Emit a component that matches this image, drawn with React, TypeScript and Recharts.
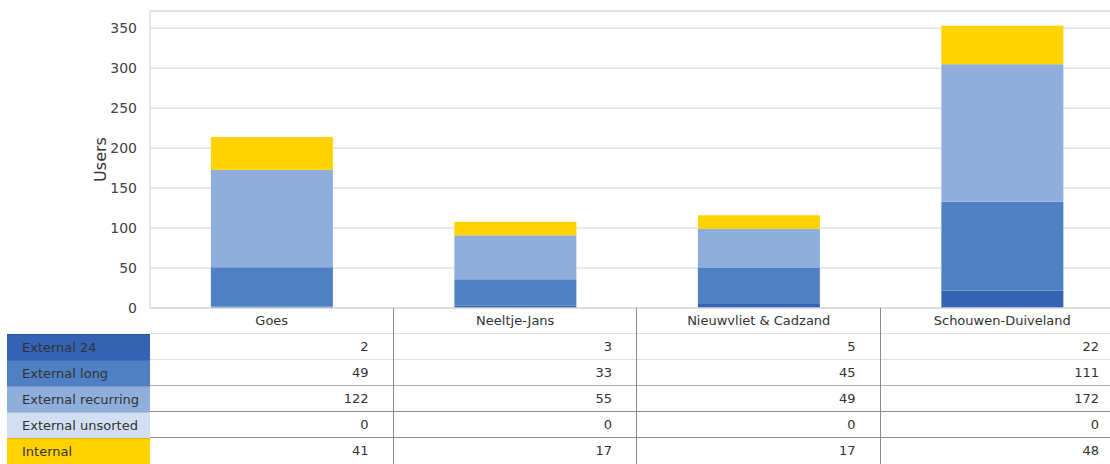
import React from "react";
import {
  Bar,
  BarChart,
  CartesianGrid,
  Label,
  ReferenceLine,
  XAxis,
  YAxis,
} from "recharts";

const locations = ["Goes", "Neeltje-Jans", "Nieuwvliet & Cadzand", "Schouwen-Duiveland"];

const external24 = [2, 3, 5, 22];
const externalLong = [49, 33, 45, 111];
const externalRecurring = [122, 55, 49, 172];
const externalUnsorted = [0, 0, 0, 0];
const internal = [41, 17, 17, 48];

const yTicks = [0, 50, 100, 150, 200, 250, 300, 350];
const yMax = 371.6;

const series = [
  { key: "External 24", values: external24, color: "#3463b3" },
  { key: "External long", values: externalLong, color: "#4f80c4" },
  { key: "External recurring", values: externalRecurring, color: "#8faedc" },
  { key: "External unsorted", values: externalUnsorted, color: "#d2def1" },
  { key: "Internal", values: internal, color: "#ffd200" },
];

const data = locations.map((name, i) => {
  const row: Record<string, string | number> = { name };
  series.forEach((s) => (row[s.key] = s.values[i]));
  return row;
});

// plot geometry (matches the chart margins below)
const plotLeft = 150;
const plotRight = 1124;
const plotBottom = 308;
const headerH = 26;
const rowH = 26;
const colW = (plotRight - plotLeft) / locations.length;

const font = "'DejaVu Sans', sans-serif";

export default function App() {
  const tableTop = plotBottom + headerH;
  return (
    <div
      style={{
        position: "absolute",
        left: 0,
        top: 0,
        width: 1110,
        height: 464,
        overflow: "hidden",
        background: "#fff",
        fontFamily: font,
      }}
    >
      <BarChart
        width={1130}
        height={plotBottom + headerH}
        data={data}
        margin={{ top: 11, right: 6, bottom: 0, left: 0 }}
        barCategoryGap="25%"
      >
        <CartesianGrid
          vertical={false}
          stroke="#e2e2e2"
          strokeWidth={1.5}
        />
        <XAxis
          dataKey="name"
          height={headerH}
          tickLine={false}
          axisLine={{ stroke: "#d8d8d8", strokeWidth: 1.5 }}
          tick={{ fill: "#333", fontSize: 13, fontFamily: font }}
          interval={0}
        />
        <YAxis
          width={plotLeft}
          domain={[0, yMax]}
          ticks={yTicks}
          tickLine={false}
          axisLine={{ stroke: "#dcdcdc", strokeWidth: 1.5 }}
          tickMargin={7}
          tick={{ fill: "#444", fontSize: 14, fontFamily: font }}
        >
          <Label
            value="Users"
            angle={-90}
            position="center"
            dx={25}
            style={{ fill: "#333", fontSize: 16, fontFamily: font }}
          />
        </YAxis>
        <ReferenceLine y={yMax} stroke="#e2e2e2" strokeWidth={1.5} />
        {series.map((s) => (
          <Bar
            key={s.key}
            dataKey={s.key}
            stackId="users"
            fill={s.color}
            isAnimationActive={false}
          />
        ))}
      </BarChart>

      {/* table under the chart */}
      {series.map((s, i) => (
        <div
          key={s.key}
          style={{
            position: "absolute",
            left: 7,
            top: tableTop + i * rowH,
            width: plotLeft - 7,
            height: rowH,
            boxSizing: "border-box",
            background: s.color,
            borderTop: "1px solid rgba(0,0,0,0.12)",
            paddingLeft: 15,
            lineHeight: `${rowH}px`,
            fontSize: 13,
            color: "#333",
          }}
        >
          {s.key}
        </div>
      ))}
      {series.map((s, i) =>
        s.values.map((v, j) => (
          <div
            key={s.key + j}
            style={{
              position: "absolute",
              left: plotLeft + j * colW,
              top: tableTop + i * rowH,
              width: colW,
              height: rowH,
              boxSizing: "border-box",
              paddingRight: 25,
              textAlign: "right",
              lineHeight: `${rowH}px`,
              fontSize: 13,
              color: "#333",
            }}
          >
            {v}
          </div>
        ))
      )}
      {series.map((s, i) => (
        <div
          key={"h" + s.key}
          style={{
            position: "absolute",
            left: plotLeft,
            top: tableTop + i * rowH - 1,
            width: plotRight - plotLeft,
            height: 0,
            borderTop: `1.5px solid ${i < 2 ? "#dedede" : i === 2 ? "#b0b0b0" : "#909090"}`,
          }}
        />
      ))}
      {locations.slice(1).map((loc, j) => (
        <div
          key={"v" + loc}
          style={{
            position: "absolute",
            left: plotLeft + (j + 1) * colW - 1,
            top: plotBottom,
            width: 0,
            height: 464 - plotBottom,
            borderLeft: "1.5px solid #8a8a8a",
          }}
        />
      ))}
    </div>
  );
}
